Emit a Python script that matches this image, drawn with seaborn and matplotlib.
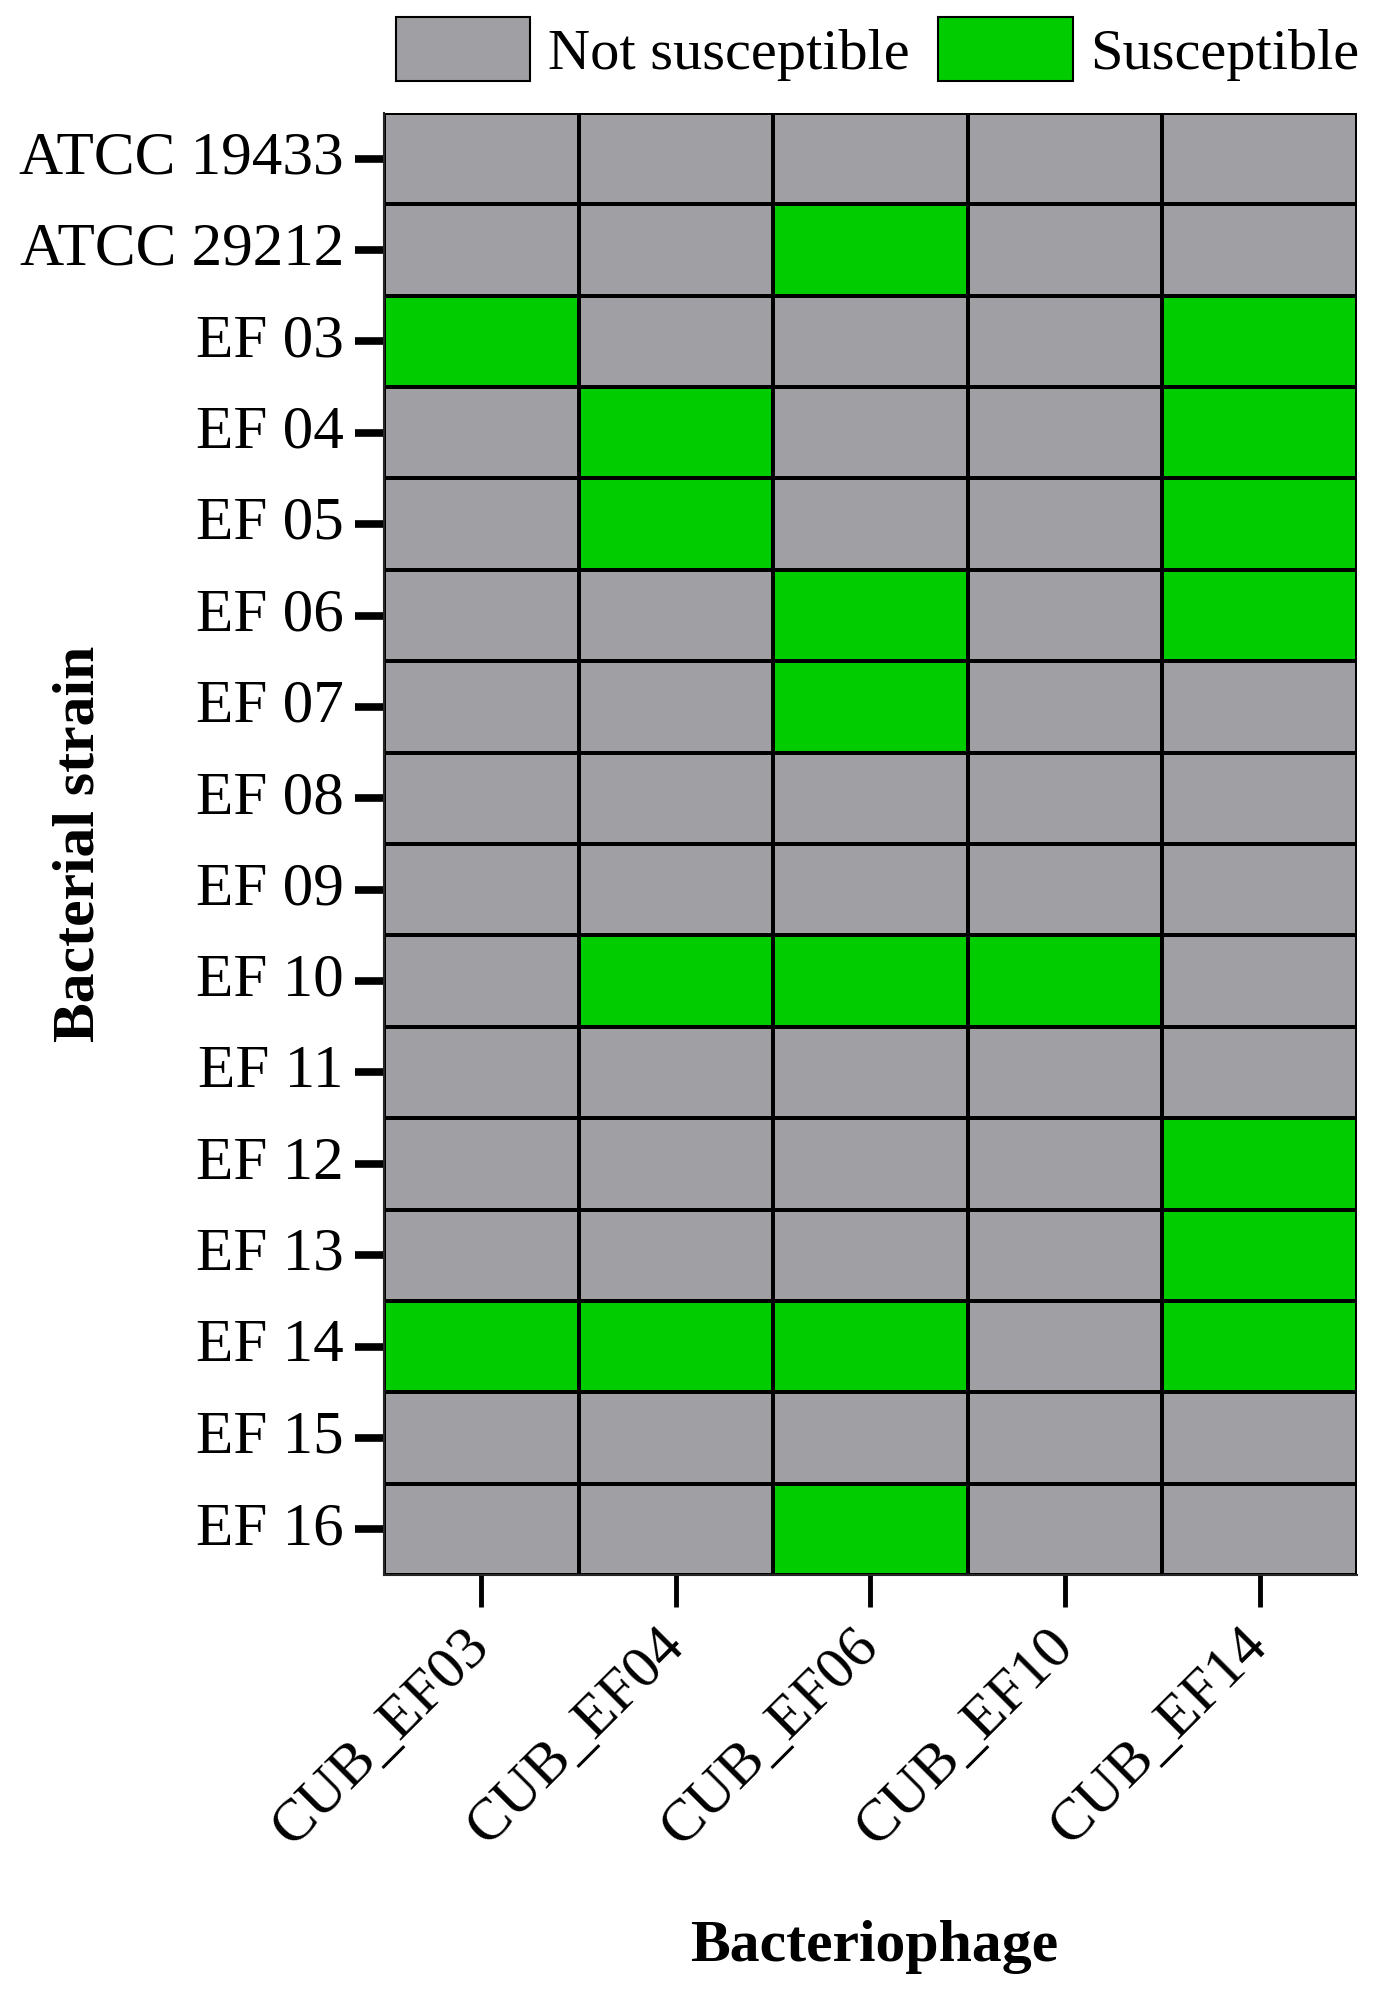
import seaborn as sns
import matplotlib.pyplot as plt
import pandas as pd
from matplotlib.colors import ListedColormap
from matplotlib.patches import Patch

# data: 1 = susceptible, 0 = not susceptible
strains = ["ATCC 19433", "ATCC 29212", "EF 03", "EF 04", "EF 05", "EF 06", "EF 07", "EF 08",
           "EF 09", "EF 10", "EF 11", "EF 12", "EF 13", "EF 14", "EF 15", "EF 16"]
phages = ["CUB_EF03", "CUB_EF04", "CUB_EF06", "CUB_EF10", "CUB_EF14"]
cub_ef03 = [0, 0, 1, 0, 0, 0, 0, 0, 0, 0, 0, 0, 0, 1, 0, 0]
cub_ef04 = [0, 0, 0, 1, 1, 0, 0, 0, 0, 1, 0, 0, 0, 1, 0, 0]
cub_ef06 = [0, 1, 0, 0, 0, 1, 1, 0, 0, 1, 0, 0, 0, 1, 0, 1]
cub_ef10 = [0, 0, 0, 0, 0, 0, 0, 0, 0, 1, 0, 0, 0, 0, 0, 0]
cub_ef14 = [0, 0, 1, 1, 1, 1, 0, 0, 0, 0, 0, 1, 1, 1, 0, 0]
legend_labels = ["Not susceptible", "Susceptible"]

df = pd.DataFrame({"CUB_EF03": cub_ef03, "CUB_EF04": cub_ef04, "CUB_EF06": cub_ef06,
                   "CUB_EF10": cub_ef10, "CUB_EF14": cub_ef14}, index=strains)

sns.set_style("white")
plt.rcParams['font.family'] = ['Liberation Serif', 'DejaVu Serif']
plt.rcParams['text.color'] = 'black'
plt.rcParams['axes.labelcolor'] = 'black'
plt.rcParams['xtick.color'] = 'black'
plt.rcParams['ytick.color'] = 'black'

gray = "#a0a0a4"
green = "#00cc00"

fig = plt.figure(figsize=(13.79, 19.95), dpi=100)
ax = fig.add_axes([0.2785, 0.2105, 0.7055, 0.7329])

sns.heatmap(df[phages], ax=ax, cmap=ListedColormap([gray, green]), vmin=0, vmax=1,
            cbar=False, linewidths=1.5, linecolor="black")

ax.spines["left"].set_visible(True)
ax.spines["bottom"].set_visible(True)
ax.spines["left"].set_linewidth(1.5)
ax.spines["bottom"].set_linewidth(1.5)
ax.spines["top"].set_visible(False)
ax.spines["right"].set_visible(False)

ax.set_yticklabels(strains, rotation=0, fontsize=44)
ax.set_xticklabels(phages, rotation=45, ha="right", va="center", rotation_mode="anchor", fontsize=43)
ax.tick_params(axis="y", length=21, width=5.5, left=True, pad=8)
ax.tick_params(axis="x", length=23, width=3.5, bottom=True, pad=22)

ax.set_ylabel("Bacterial strain", fontsize=43, fontweight="bold")
ax.set_xlabel("Bacteriophage", fontsize=43, fontweight="bold")
ax.yaxis.set_label_coords(-0.285, 0.5)
ax.xaxis.set_label_coords(0.504, -0.236)

handles = [Patch(facecolor=gray, edgecolor="black", linewidth=1.5),
           Patch(facecolor=green, edgecolor="black", linewidth=1.5)]
fig.legend(handles, legend_labels, loc="upper left", bbox_to_anchor=(0.266, 1.006), ncol=2,
           frameon=False, fontsize=42, borderpad=0, handlelength=2.3, handleheight=1.3,
           handletextpad=0.3, columnspacing=0.5)

fig.savefig("out.png", dpi=100)
